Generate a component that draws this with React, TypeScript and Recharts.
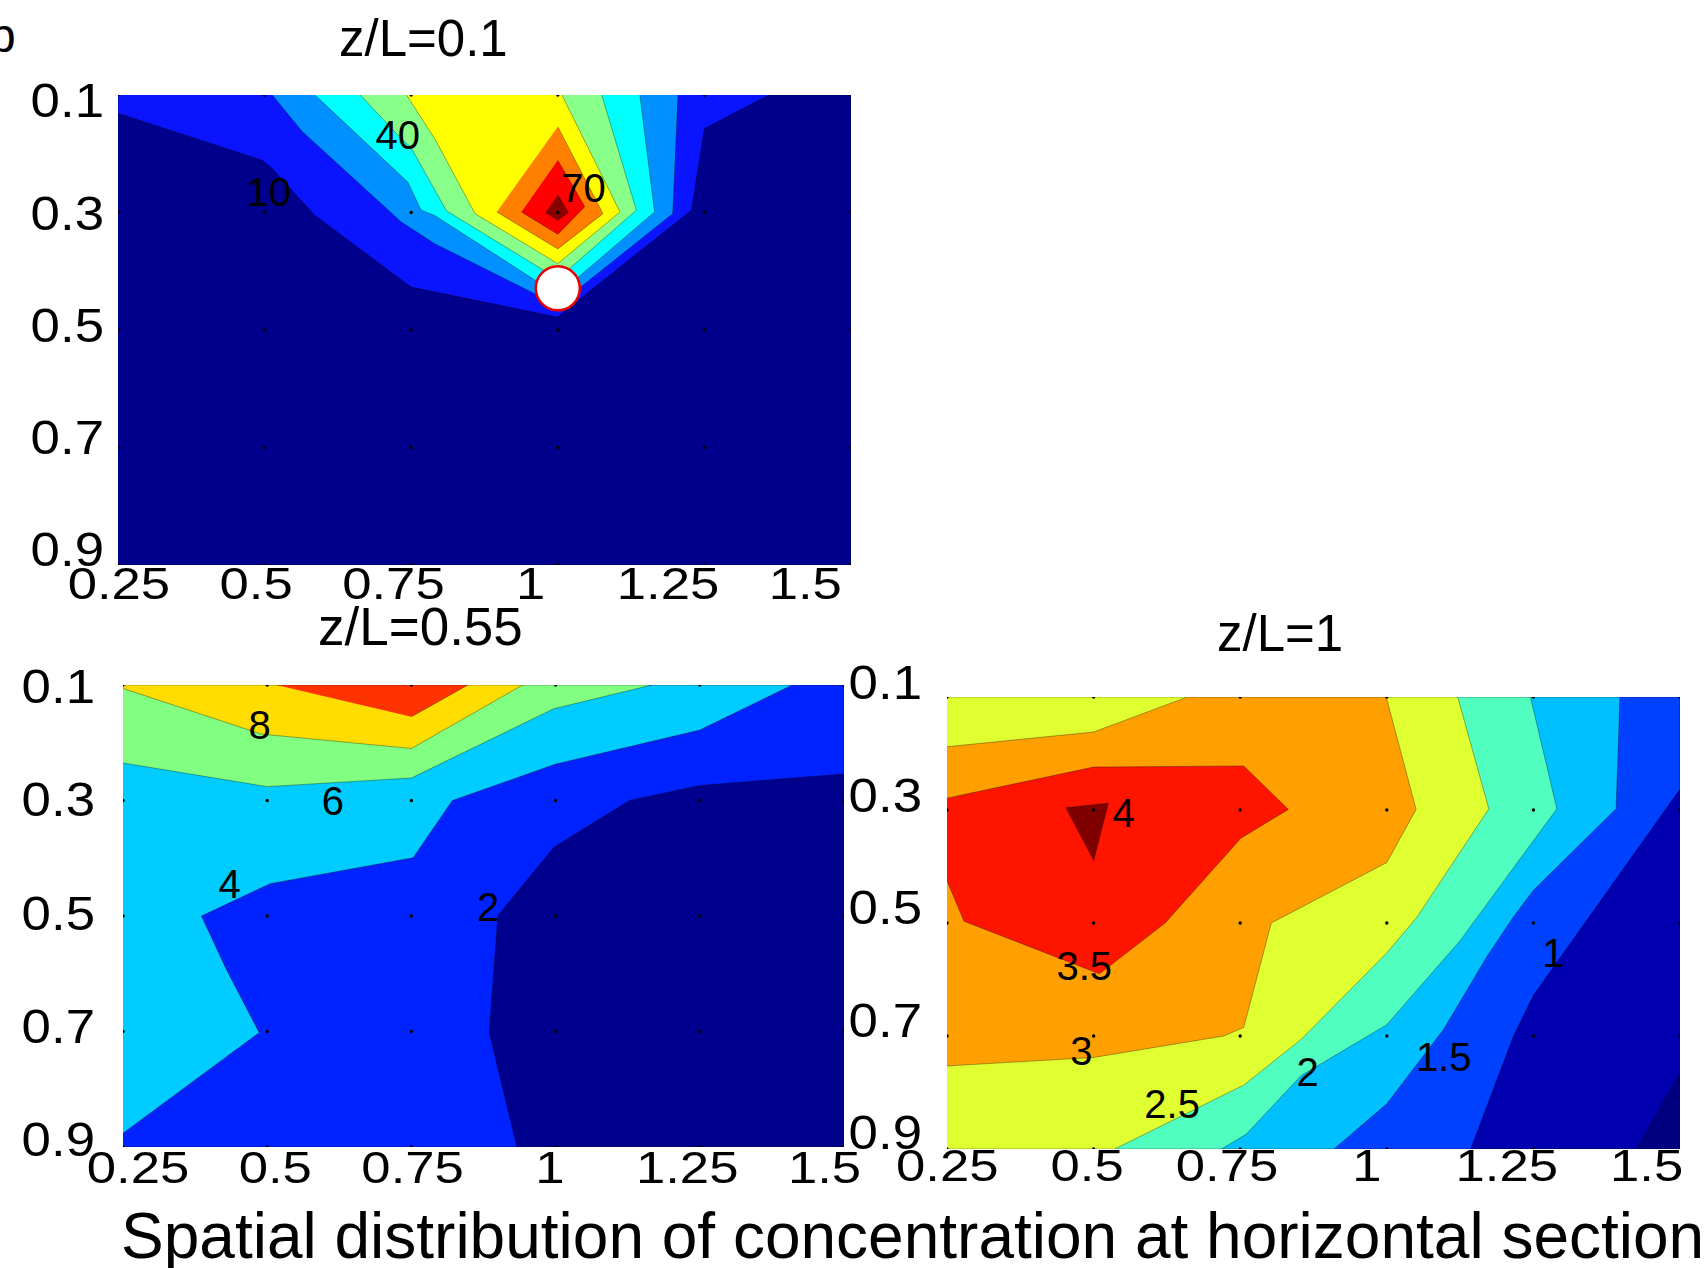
import React from "react";
import { ScatterChart, Scatter, XAxis, YAxis } from "recharts";

type Pt = [number, number];

const FONT = "'Liberation Sans', Arial, Helvetica, sans-serif";

// axis ticks (x/L across, y/L down)
const xTicks = [0.25, 0.5, 0.75, 1, 1.25, 1.5];
const yTicks = [0.1, 0.3, 0.5, 0.7, 0.9];

const fullBox: Pt[] = [[0.25, 0.1], [1.5, 0.1], [1.5, 0.9], [0.25, 0.9]];

// z/L = 0.1 : filled contour bands (levels 10..80)
const p1Lev10: Pt[] = [[0.25, 0.1], [0.25, 0.131], [0.496, 0.211], [0.513, 0.225], [0.586, 0.305], [0.75, 0.427], [1.0, 0.478], [1.04, 0.445], [1.228, 0.296], [1.25, 0.157], [1.36, 0.1]];
const p1Lev20: Pt[] = [[0.513, 0.1], [0.564, 0.162], [0.733, 0.316], [0.79, 0.353], [1.0, 0.458], [1.196, 0.302], [1.205, 0.1]];
const p1Lev30: Pt[] = [[0.586, 0.1], [0.744, 0.248], [0.767, 0.296], [0.79, 0.305], [1.0, 0.44], [1.165, 0.299], [1.14, 0.1]];
const p1Lev40: Pt[] = [[0.663, 0.1], [0.727, 0.168], [0.75, 0.19], [0.81, 0.297], [1.0, 0.413], [1.134, 0.296], [1.075, 0.1]];
const p1Lev50: Pt[] = [[0.742, 0.1], [0.79, 0.174], [0.859, 0.302], [1.0, 0.387], [1.106, 0.299], [1.007, 0.1]];
const p1Lev60: Pt[] = [[1.0, 0.154], [1.077, 0.302], [1.0, 0.362], [0.896, 0.299]];
const p1Lev70: Pt[] = [[1.0, 0.211], [1.046, 0.29], [1.0, 0.337], [0.938, 0.299]];
const p1Lev80: Pt[] = [[1.0, 0.27], [1.018, 0.3], [1.0, 0.313], [0.979, 0.3]];
const p1Labels = [{ x: 0.507, y: 0.265, txt: "10" }, { x: 0.727, y: 0.168, txt: "40" }, { x: 1.044, y: 0.259, txt: "70" }];
const p1Source = [{ x: 1.0, y: 0.429 }];

// z/L = 0.55 (levels 2..10)
const p2Lev2: Pt[] = [[0.25, 0.1], [1.5, 0.1], [1.5, 0.254], [1.25, 0.274], [1.128, 0.3], [0.997, 0.381], [0.9, 0.499], [0.885, 0.702], [0.933, 0.9], [0.25, 0.9]];
const p2Lev4: Pt[] = [[0.25, 0.1], [1.41, 0.1], [1.25, 0.178], [1.0, 0.237], [0.821, 0.3], [0.753, 0.399], [0.505, 0.444], [0.386, 0.5], [0.429, 0.592], [0.486, 0.702], [0.25, 0.876]];
const p2Lev6: Pt[] = [[0.25, 0.1], [1.167, 0.1], [0.997, 0.141], [0.75, 0.261], [0.5, 0.276], [0.25, 0.235]];
const p2Lev8: Pt[] = [[0.25, 0.1], [0.943, 0.1], [0.75, 0.21], [0.49, 0.185], [0.25, 0.106]];
const p2Lev10: Pt[] = [[0.516, 0.1], [0.848, 0.1], [0.75, 0.155]];
const p2Labels = [{ x: 0.487, y: 0.169, txt: "8" }, { x: 0.614, y: 0.3, txt: "6" }, { x: 0.435, y: 0.445, txt: "4" }, { x: 0.883, y: 0.484, txt: "2" }];

// z/L = 1 (levels 0.5..4)
const p3Lev05: Pt[] = [[0.25, 0.1], [1.5, 0.1], [1.5, 0.765], [1.426, 0.9], [0.25, 0.9]];
const p3Lev1: Pt[] = [[0.25, 0.1], [1.5, 0.1], [1.5, 0.263], [1.25, 0.628], [1.216, 0.7], [1.143, 0.9], [0.25, 0.9]];
const p3Lev15: Pt[] = [[0.25, 0.1], [1.3975, 0.1], [1.391, 0.298], [1.25, 0.442], [1.216, 0.489], [1.171, 0.559], [1.097, 0.688], [1.0, 0.82], [0.91, 0.9], [0.25, 0.9]];
const p3Lev2: Pt[] = [[0.25, 0.1], [1.245, 0.1], [1.29, 0.298], [1.205, 0.418], [1.126, 0.53], [1.0, 0.68], [0.854, 0.77], [0.76, 0.874], [0.718, 0.9], [0.25, 0.9]];
const p3Lev25: Pt[] = [[0.25, 0.1], [1.121, 0.1], [1.174, 0.298], [1.052, 0.489], [1.0, 0.553], [0.854, 0.706], [0.756, 0.787], [0.536, 0.9], [0.25, 0.9]];
const p3Lev3: Pt[] = [[0.25, 0.188], [0.5, 0.162], [0.66, 0.1], [0.999, 0.1], [1.05, 0.299], [1.0, 0.393], [0.803, 0.5], [0.756, 0.685], [0.722, 0.7], [0.5, 0.738], [0.25, 0.753]];
const p3Lev35: Pt[] = [[0.25, 0.279], [0.5, 0.224], [0.756, 0.222], [0.832, 0.299], [0.751, 0.35], [0.622, 0.5], [0.51, 0.59], [0.279, 0.497], [0.25, 0.425]];
const p3Lev4: Pt[] = [[0.452, 0.296], [0.525, 0.288], [0.5, 0.39]];
const p3Labels = [
  { x: 0.551, y: 0.305, txt: "4" }, { x: 0.484, y: 0.576, txt: "3.5" }, { x: 0.479, y: 0.727, txt: "3" },
  { x: 0.634, y: 0.821, txt: "2.5" }, { x: 0.865, y: 0.764, txt: "2" }, { x: 1.097, y: 0.738, txt: "1.5" }, { x: 1.284, y: 0.553, txt: "1" },
];

type Region = { pts: Pt[]; color: string };

const panel1: Region[] = [
  { pts: fullBox, color: "#00008c" }, { pts: p1Lev10, color: "#0a14ff" }, { pts: p1Lev20, color: "#0090ff" },
  { pts: p1Lev30, color: "#00ffff" }, { pts: p1Lev40, color: "#88ff88" }, { pts: p1Lev50, color: "#ffff00" },
  { pts: p1Lev60, color: "#ff8000" }, { pts: p1Lev70, color: "#ff0000" }, { pts: p1Lev80, color: "#880000" },
];
const panel2: Region[] = [
  { pts: fullBox, color: "#00008f" }, { pts: p2Lev2, color: "#0022ff" }, { pts: p2Lev4, color: "#00ccff" },
  { pts: p2Lev6, color: "#80ff80" }, { pts: p2Lev8, color: "#ffdd00" }, { pts: p2Lev10, color: "#ff3300" },
];
const panel3: Region[] = [
  { pts: fullBox, color: "#000080" }, { pts: p3Lev05, color: "#0000b0" }, { pts: p3Lev1, color: "#0040ff" },
  { pts: p3Lev15, color: "#00c0ff" }, { pts: p3Lev2, color: "#50ffc0" }, { pts: p3Lev25, color: "#dfff30" },
  { pts: p3Lev3, color: "#ffa000" }, { pts: p3Lev35, color: "#ff1400" }, { pts: p3Lev4, color: "#800000" },
];

const gridNodes = xTicks.flatMap((x) => yTicks.map((y) => ({ x, y })));

const noDot = () => <g />;
const gridDot = (p: any) => <circle cx={p.cx} cy={p.cy} r={1.7} fill="#000" />;
const sourceDot = (p: any) => <circle cx={p.cx} cy={p.cy} r={22} fill="#fff" stroke="#ee0000" strokeWidth={2.5} />;
const contourText = (p: any) => (
  <text x={p.cx} y={p.cy} dy={14} textAnchor="middle" fontSize={40} fontFamily={FONT} fill="#000">
    {p.payload?.txt ?? p.txt}
  </text>
);

type PanelProps = {
  left: number; top: number; w: number; h: number;
  regions: Region[]; labels: { x: number; y: number; txt: string }[];
  source?: { x: number; y: number }[];
  xLab: [number, number]; yLab: [number, number]; xDy: number; yDx: number;
};

// the tick labels of the original sit on a slightly tighter spacing than the grid,
// so they are drawn by separate label axes with their own domains
function Panel({ left, top, w, h, regions, labels, source, xLab, yLab, xDy, yDx }: PanelProps) {
  const ml = 130, mt = 50, mr = 60, mb = 70;
  const xTick = (p: any) => (
    <text transform={`translate(${p.x},${p.y + xDy}) scale(1.17,1)`} textAnchor="middle" fontSize={45} fontFamily={FONT} fill="#000">
      {p.payload.value}
    </text>
  );
  const yTick = (p: any) => (
    <text transform={`translate(${p.x + yDx},${p.y + 17}) scale(1.1,1)`} textAnchor="end" fontSize={48} fontFamily={FONT} fill="#000">
      {p.payload.value}
    </text>
  );
  return (
    <div style={{ position: "absolute", left: left - ml, top: top - mt }}>
      <ScatterChart width={w + ml + mr} height={h + mt + mb} margin={{ top: mt, right: mr, bottom: 0, left: 0 }}>
        <XAxis type="number" dataKey="x" domain={[0.25, 1.5]} allowDataOverflow
          tick={false} axisLine={false} tickLine={false} height={1} />
        <YAxis type="number" dataKey="y" domain={[0.1, 0.9]} allowDataOverflow reversed
          tick={false} axisLine={false} tickLine={false} width={1} />
        <XAxis xAxisId="lab" type="number" dataKey="x" domain={xLab} ticks={xTicks} interval={0} allowDataOverflow
          axisLine={false} tickLine={false} tickSize={0} tickMargin={0} height={mb - 1} tick={xTick} />
        <YAxis yAxisId="lab" type="number" dataKey="y" domain={yLab} ticks={yTicks} interval={0} allowDataOverflow reversed
          axisLine={false} tickLine={false} tickSize={0} tickMargin={0} width={ml - 1} tick={yTick} />
        {regions.map((r, i) => (
          <Scatter key={i} data={r.pts.map(([x, y]) => ({ x, y }))} shape={noDot} isAnimationActive={false}
            line={{ fill: r.color, stroke: "#000", strokeWidth: 0.6, strokeOpacity: 0.55 }} />
        ))}
        <Scatter data={gridNodes} shape={gridDot} isAnimationActive={false} />
        <Scatter data={labels} shape={contourText} isAnimationActive={false} />
        {source && <Scatter data={source} shape={sourceDot} isAnimationActive={false} />}
      </ScatterChart>
    </div>
  );
}

const txt = (s: React.CSSProperties): React.CSSProperties => ({
  position: "absolute", fontFamily: FONT, lineHeight: 1, whiteSpace: "nowrap", color: "#000", ...s,
});

export default function App() {
  return (
    <div style={{ position: "absolute", left: 0, top: 0, width: 1706, height: 1268, background: "#fff", overflow: "hidden" }}>
      <div style={txt({ left: -11, top: 12, fontSize: 48 })}>b</div>
      <div style={txt({ left: 339, top: 13, fontSize: 51 })}>z/L=0.1</div>
      <div style={txt({ left: 318, top: 600, fontSize: 53 })}>z/L=0.55</div>
      <div style={txt({ left: 1217, top: 608, fontSize: 51 })}>z/L=1</div>
      <Panel left={118} top={95} w={733} h={470} regions={panel1} labels={p1Labels} source={p1Source}
        xLab={[0.2484, 1.5833]} yLab={[0.0907, 0.9277]} xDy={33} yDx={-13} />
      <Panel left={123} top={685} w={721} h={462} regions={panel2} labels={p2Labels}
        xLab={[0.2227, 1.5355]} yLab={[0.0979, 0.9134]} xDy={35} yDx={-27} />
      <Panel left={947} top={697} w={733} h={452} regions={panel3} labels={p3Labels}
        xLab={[0.2495, 1.5596]} yLab={[0.126, 0.9297]} xDy={31} yDx={-24} />
      <div style={txt({ left: 121, top: 1204, fontSize: 64 })}>Spatial distribution of concentration at horizontal section</div>
    </div>
  );
}
